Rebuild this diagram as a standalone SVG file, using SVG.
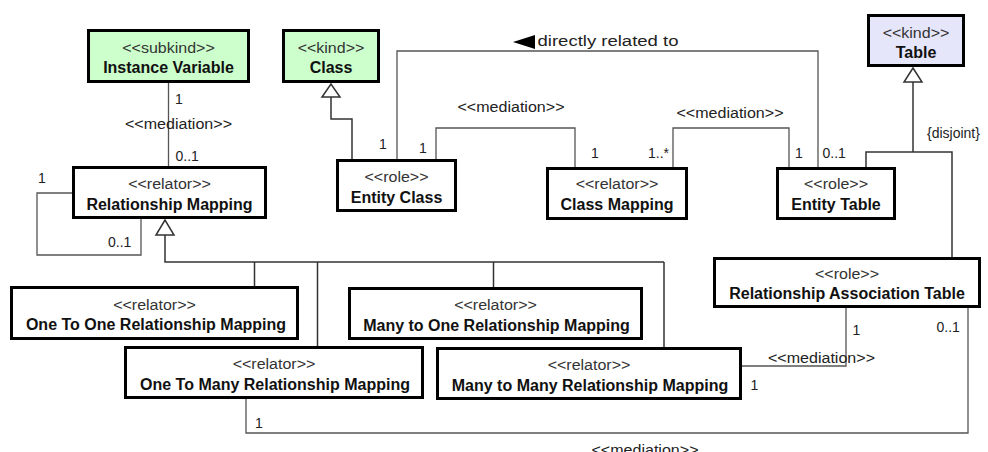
<svg xmlns="http://www.w3.org/2000/svg" width="988" height="452" viewBox="0 0 988 452">
<style>
  .box{fill:#ffffff;stroke:#000000;stroke-width:3}
  .green{fill:#ccffcc}
  .lav{fill:#e6e6fa}
  .st{font-family:"Liberation Sans",Arial,sans-serif;font-size:14px;fill:#333333;text-anchor:middle}
  .nm{font-family:"Liberation Sans",Arial,sans-serif;font-size:16px;font-weight:bold;fill:#111111;text-anchor:middle}
  .lbl{font-family:"Liberation Sans",Arial,sans-serif;font-size:14px;fill:#222222}
  .med{font-family:"Liberation Sans",Arial,sans-serif;font-size:14px;fill:#222222}
  .assoc{fill:none;stroke:#555555;stroke-width:1.3}
  .gen{fill:none;stroke:#333333;stroke-width:1.5}
  .tri{fill:#ffffff;stroke:#333333;stroke-width:1.5}
</style>
<rect x="0" y="0" width="988" height="452" fill="#ffffff"/>

<g id="connectors">
  <!-- Instance Variable - Relationship Mapping -->
  <path class="assoc" d="M168.5 83 V166"/>
  <!-- Relationship Mapping self association -->
  <path class="assoc" d="M72 193 H37 V255 H141 V219"/>
  <!-- Class generalization -->
  <path class="gen" d="M331 97 V119 H352 V159"/>
  <polygon class="tri" points="331,84 322,97 340,97"/>
  <!-- directly related to -->
  <path class="assoc" d="M397 159 V51 H818 V167"/>
  <polygon points="513,42 535,35 535,49" fill="#000000"/>
  <!-- Entity Class - Class Mapping -->
  <path class="assoc" d="M436 159 V128 H575 V167"/>
  <!-- Class Mapping - Entity Table -->
  <path class="assoc" d="M673 167 V128 H789 V167"/>
  <!-- Table generalization -->
  <path class="gen" d="M913 82 V152"/>
  <path class="gen" d="M866 167 V152 H952 V257"/>
  <polygon class="tri" points="913,68 904,82 922,82"/>
  <!-- Relationship Mapping generalization tree -->
  <path class="gen" d="M165 235 V262 H664"/>
  <path class="gen" d="M254.5 262 V286 M317.5 262 V346 M493.5 262 V287 M664 262 V347"/>
  <polygon class="tri" points="165,220 156,235 174,235"/>
  <!-- Many to Many - RAT -->
  <path class="assoc" d="M742 366 H846 V308"/>
  <!-- One To Many - RAT -->
  <path class="assoc" d="M246 399 V433 H968 V308"/>

  <!-- labels -->
  <text class="lbl" x="175" y="104">1</text>
  <text class="med" x="125" y="129" textLength="107" lengthAdjust="spacingAndGlyphs">&lt;&lt;mediation&gt;&gt;</text>
  <text class="lbl" x="175.5" y="161">0..1</text>
  <text class="lbl" x="38" y="183">1</text>
  <text class="lbl" x="108" y="247">0..1</text>
  <text class="lbl" x="379" y="149">1</text>
  <text class="lbl" x="419" y="153">1</text>
  <text class="med" x="457.5" y="112" textLength="107" lengthAdjust="spacingAndGlyphs">&lt;&lt;mediation&gt;&gt;</text>
  <text class="lbl" x="591" y="158">1</text>
  <text class="lbl" x="648" y="158">1..*</text>
  <text class="med" x="676.5" y="118" textLength="107" lengthAdjust="spacingAndGlyphs">&lt;&lt;mediation&gt;&gt;</text>
  <text class="lbl" x="795" y="158">1</text>
  <text class="lbl" x="822.5" y="158">0..1</text>
  <text class="med" x="537.5" y="46" font-size="15" textLength="141" lengthAdjust="spacingAndGlyphs">directly related to</text>
  <text class="lbl" x="927" y="138" font-size="16">{disjoint}</text>
  <text class="lbl" x="852.5" y="335">1</text>
  <text class="med" x="768" y="362.5" textLength="107" lengthAdjust="spacingAndGlyphs">&lt;&lt;mediation&gt;&gt;</text>
  <text class="lbl" x="750.5" y="390">1</text>
  <text class="lbl" x="255" y="427.5">1</text>
  <text class="lbl" x="936.5" y="331.5">0..1</text>
  <text class="med" x="591.5" y="455" textLength="107" lengthAdjust="spacingAndGlyphs">&lt;&lt;mediation&gt;&gt;</text>
</g>

<g id="instance-variable">
  <rect class="box green" x="88.5" y="30.5" width="160" height="51"/>
  <text class="st" x="168.5" y="52.5" textLength="92.5" lengthAdjust="spacingAndGlyphs">&lt;&lt;subkind&gt;&gt;</text>
  <text class="nm" x="168.5" y="73">Instance Variable</text>
</g>
<g id="class">
  <rect class="box green" x="283.5" y="30.5" width="95" height="51"/>
  <text class="st" x="331" y="52.5" textLength="66.7" lengthAdjust="spacingAndGlyphs">&lt;&lt;kind&gt;&gt;</text>
  <text class="nm" x="331" y="73">Class</text>
</g>
<g id="table">
  <rect class="box lav" x="868.5" y="15.5" width="95" height="50"/>
  <text class="st" x="916" y="37.5" textLength="66.7" lengthAdjust="spacingAndGlyphs">&lt;&lt;kind&gt;&gt;</text>
  <text class="nm" x="916" y="57.5">Table</text>
</g>
<g id="relationship-mapping">
  <rect class="box" x="73.5" y="167.5" width="192" height="50"/>
  <text class="st" x="169.5" y="188.5" textLength="82.7" lengthAdjust="spacingAndGlyphs">&lt;&lt;relator&gt;&gt;</text>
  <text class="nm" x="169.5" y="210">Relationship Mapping</text>
</g>
<g id="entity-class">
  <rect class="box" x="337.5" y="160.5" width="118" height="50"/>
  <text class="st" x="396.5" y="182" textLength="64" lengthAdjust="spacingAndGlyphs">&lt;&lt;role&gt;&gt;</text>
  <text class="nm" x="396.5" y="202.5">Entity Class</text>
</g>
<g id="class-mapping">
  <rect class="box" x="547.5" y="168.5" width="139" height="50"/>
  <text class="st" x="617" y="189" textLength="82.7" lengthAdjust="spacingAndGlyphs">&lt;&lt;relator&gt;&gt;</text>
  <text class="nm" x="617" y="210">Class Mapping</text>
</g>
<g id="entity-table">
  <rect class="box" x="777.5" y="168.5" width="117" height="50"/>
  <text class="st" x="836" y="189" textLength="64" lengthAdjust="spacingAndGlyphs">&lt;&lt;role&gt;&gt;</text>
  <text class="nm" x="836" y="210">Entity Table</text>
</g>
<g id="relationship-association-table">
  <rect class="box" x="714.5" y="258.5" width="265" height="48"/>
  <text class="st" x="847" y="278.5" textLength="64" lengthAdjust="spacingAndGlyphs">&lt;&lt;role&gt;&gt;</text>
  <text class="nm" x="847" y="298.5">Relationship Association Table</text>
</g>
<g id="one-to-one">
  <rect class="box" x="11.5" y="287.5" width="286" height="51"/>
  <text class="st" x="154.5" y="309.5" textLength="82.7" lengthAdjust="spacingAndGlyphs">&lt;&lt;relator&gt;&gt;</text>
  <text class="nm" x="156" y="330">One To One Relationship Mapping</text>
</g>
<g id="many-to-one">
  <rect class="box" x="349.5" y="288.5" width="292" height="50"/>
  <text class="st" x="495.5" y="310" textLength="82.7" lengthAdjust="spacingAndGlyphs">&lt;&lt;relator&gt;&gt;</text>
  <text class="nm" x="496.5" y="330.5">Many to One Relationship Mapping</text>
</g>
<g id="one-to-many">
  <rect class="box" x="125.5" y="347.5" width="297" height="50"/>
  <text class="st" x="274" y="368.5" textLength="82.7" lengthAdjust="spacingAndGlyphs">&lt;&lt;relator&gt;&gt;</text>
  <text class="nm" x="275" y="389.5">One To Many Relationship Mapping</text>
</g>
<g id="many-to-many">
  <rect class="box" x="437.5" y="348.5" width="303" height="50"/>
  <text class="st" x="589" y="369.5" textLength="82.7" lengthAdjust="spacingAndGlyphs">&lt;&lt;relator&gt;&gt;</text>
  <text class="nm" x="590" y="390.5">Many to Many Relationship Mapping</text>
</g>
</svg>
